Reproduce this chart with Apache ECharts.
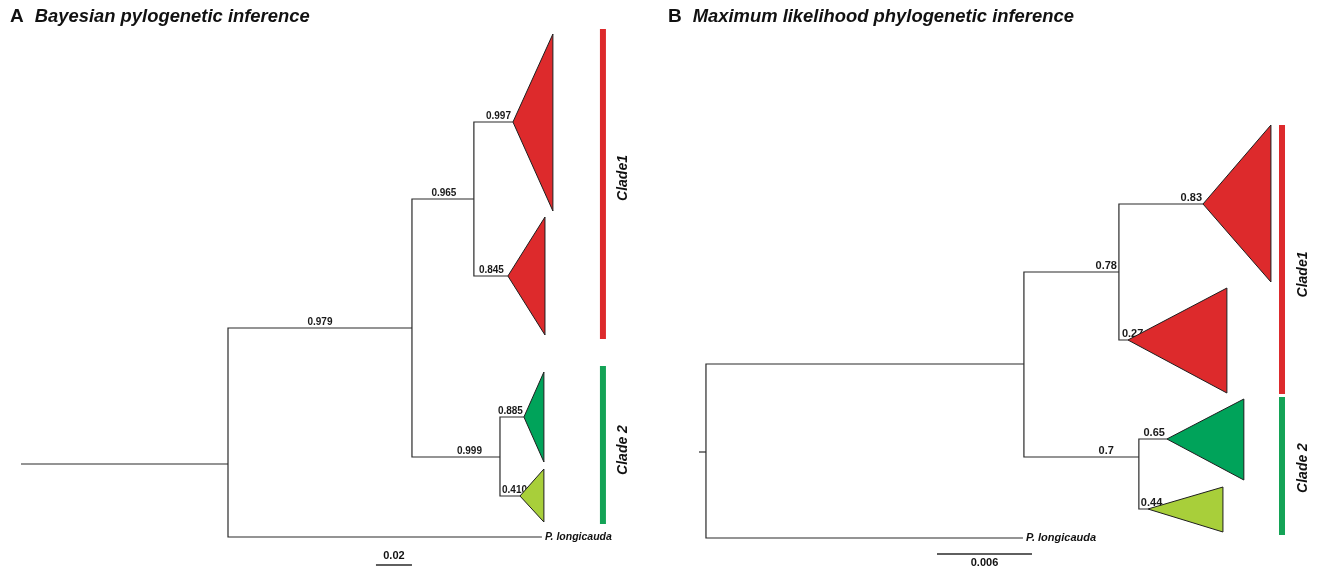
<!DOCTYPE html>
<html><head><meta charset="utf-8">
<script src="https://cdn.jsdelivr.net/npm/echarts@6/dist/echarts.min.js"></script>
<style>html,body{margin:0;padding:0;background:#fff}#c{width:1317px;height:569px}</style>
</head><body><div id="c"></div>
<script>
// ---------------- Panel A : Bayesian ----------------
const panelLetterA = 'A';
const titleA = 'Bayesian pylogenetic inference';
const nodeA   = ['root','R','N1','P','N2','N3','C1a','C1b','C2a','C2b'];
const parentA = [null,'root','R','R','N1','N1','N2','N2','N3','N3'];
const branchA = [0,0.115,0.1022,0.1744,0.0344,0.0489,0.0217,0.0189,0.0133,0.0111];
const rowA    = [464,464,328,537,199,457,122,276,417,496];
const supportA= ['','','0.979','','0.965','0.999','0.997','0.845','0.885','0.410'];
const cladeNodeA   = ['C1a','C1b','C2a','C2b'];
const cladeDepthA  = [0.0222,0.0206,0.0111,0.0133];
const cladeTopA    = [34,217,372,469];
const cladeBottomA = [211,335,462,522];
const cladeKindA   = ['clade1','clade1','clade2a','clade2b'];
const groupA       = ['Clade1','Clade 2'];
const groupDistA   = [0.3233,0.3233];
const groupTopA    = [29,366];
const groupBottomA = [339,524];
const outgroupNodeA = 'P';
const outgroupA = 'P. longicauda';
const scaleLenA = 0.02, scaleStartA = 0.1972, scaleRowA = 565, scaleLabelA = '0.02';

// ---------------- Panel B : Maximum likelihood ----------------
const panelLetterB = 'B';
const titleB = 'Maximum likelihood phylogenetic inference';
const nodeB   = ['root','R','N1','P','N2','N3','C1a','C1b','C2a','C2b'];
const parentB = [null,'root','R','R','N1','N1','N2','N2','N3','N3'];
const branchB = [0,0.00044,0.02008,0.02002,0.0060,0.00726,0.00531,0.00057,0.00177,0.00057];
const rowB    = [452,452,364,538,272,457,204,340,439,509];
const supportB= ['','','','','0.78','0.7','0.83','0.27','0.65','0.44'];
const cladeNodeB   = ['C1a','C1b','C2a','C2b'];
const cladeDepthB  = [0.00429,0.00625,0.00486,0.00474];
const cladeTopB    = [125,288,399,487];
const cladeBottomB = [282,393,480,532];
const cladeKindB   = ['clade1','clade1','clade2a','clade2b'];
const groupB       = ['Clade1','Clade 2'];
const groupDistB   = [0.03682,0.03682];
const groupTopB    = [125,397];
const groupBottomB = [394,535];
const outgroupNodeB = 'P';
const outgroupB = 'P. longicauda';
const scaleLenB = 0.006, scaleStartB = 0.01503, scaleRowB = 554, scaleLabelB = '0.006';

// ---------------- styles ----------------
const FONT = '"Liberation Sans", Arial, Helvetica, sans-serif';
const colors = {clade1:'#dd2a2c', clade2a:'#00a35a', clade2b:'#a8cf3a', bar1:'#dd2a2c', bar2:'#14a356'};
const lineColor = '#2a2a2a';
const styleA = {
  grid:{left:21, top:0, width:639, height:569}, xMax:0.355, labelSize:10, ogSize:10.5,
  place:{N1:['mid',0], N2:['mid',1], N3:['end',-18], C1a:['end',-2], C1b:['end',-4], C2a:['end',-1], C2b:['start',2]},
  groupDy:[-6,5], groupDx:20, scaleLabelPos:'above'
};
const styleB = {
  grid:{left:699, top:0, width:618, height:569}, xMax:0.03903, labelSize:11, ogSize:11,
  place:{N2:['end',-2], N3:['end',-25], C1a:['end',-1], C1b:['start',3], C2a:['end',-2], C2b:['start',2]},
  groupDy:[15,2], groupDx:21, scaleLabelPos:'below'
};

function build(node,parent,branch,row,support,cN,cD,cT,cB,cK,gN,gX,gT,gB,ogNode,ogName,sLen,sStart,sRow,sLabel){
  const x = new Array(node.length).fill(0);
  for (let i=0;i<node.length;i++){
    const p = parent[i]===null ? -1 : node.indexOf(parent[i]);
    x[i] = p<0 ? 0 : x[p] + branch[i];
  }
  return {node,parent,branch,row,support,x,cN,cD,cT,cB,cK,gN,gX,gT,gB,ogNode,ogName,sLen,sStart,sRow,sLabel};
}
const PA = build(nodeA,parentA,branchA,rowA,supportA,cladeNodeA,cladeDepthA,cladeTopA,cladeBottomA,cladeKindA,groupA,groupDistA,groupTopA,groupBottomA,outgroupNodeA,outgroupA,scaleLenA,scaleStartA,scaleRowA,scaleLabelA);
const PB = build(nodeB,parentB,branchB,rowB,supportB,cladeNodeB,cladeDepthB,cladeTopB,cladeBottomB,cladeKindB,groupB,groupDistB,groupTopB,groupBottomB,outgroupNodeB,outgroupB,scaleLenB,scaleStartB,scaleRowB,scaleLabelB);

function seriesFor(P, S, gi){
  const out = [];
  const idx = P.node.map((n,i)=>i).filter(i=>P.parent[i]!==null);
  out.push({type:'custom', xAxisIndex:gi, yAxisIndex:gi, silent:true, animation:false,
    data: idx.map(i=>[P.x[i], P.row[i], i]),
    renderItem(params, api){
      const i = api.value(2), pi = P.node.indexOf(P.parent[i]);
      const a = api.coord([P.x[pi], P.row[pi]]), b = api.coord([P.x[pi], P.row[i]]), c = api.coord([P.x[i], P.row[i]]);
      const ch = [{type:'polyline', shape:{points:[a,b,c]}, style:{stroke:lineColor, lineWidth:1.2, fill:null}}];
      const s = P.support[i];
      if (s){
        const pl = S.place[P.node[i]] || ['end',0];
        let tx, align;
        if (pl[0]==='mid'){ tx=(b[0]+c[0])/2+pl[1]; align='center'; }
        else if (pl[0]==='end'){ tx=c[0]+pl[1]; align='right'; }
        else { tx=b[0]+pl[1]; align='left'; }
        ch.push({type:'text', x:tx, y:c[1]-1, style:{text:s, align:align, verticalAlign:'bottom',
          fontFamily:FONT, fontWeight:'bold', fontSize:S.labelSize, fill:'#1a1a1a'}});
      }
      return {type:'group', children:ch};
    }});
  out.push({type:'custom', xAxisIndex:gi, yAxisIndex:gi, silent:true, animation:false,
    data: P.cN.map((n,k)=>{ const i=P.node.indexOf(n); return [P.x[i], P.row[i], k]; }),
    renderItem(params, api){
      const k = api.value(2), i = P.node.indexOf(P.cN[k]);
      const ap = api.coord([P.x[i], P.row[i]]);
      const t = api.coord([P.x[i]+P.cD[k], P.cT[k]]);
      const bt = api.coord([P.x[i]+P.cD[k], P.cB[k]]);
      return {type:'polygon', shape:{points:[ap,t,bt]}, style:{fill:colors[P.cK[k]], stroke:'#1e1e1e', lineWidth:1}};
    }});
  out.push({type:'custom', xAxisIndex:gi, yAxisIndex:gi, silent:true, animation:false,
    data: P.gN.map((n,k)=>[P.gX[k], P.gT[k], k]),
    renderItem(params, api){
      const k = api.value(2);
      const t = api.coord([P.gX[k], P.gT[k]]), bt = api.coord([P.gX[k], P.gB[k]]);
      return {type:'group', children:[
        {type:'rect', shape:{x:t[0]-3, y:t[1], width:6, height:bt[1]-t[1]}, style:{fill: k===0?colors.bar1:colors.bar2}},
        {type:'text', x:t[0]+S.groupDx, y:(t[1]+bt[1])/2+S.groupDy[k], rotation:Math.PI/2,
          style:{text:P.gN[k], align:'center', verticalAlign:'middle', fontFamily:FONT, fontWeight:'bold', fontStyle:'italic', fontSize:14, fill:'#111'}}
      ]};
    }});
  out.push({type:'custom', xAxisIndex:gi, yAxisIndex:gi, silent:true, animation:false,
    data: [[P.sStart, P.sRow, 0]],
    renderItem(params, api){
      const i = P.node.indexOf(P.ogNode);
      const tip = api.coord([P.x[i], P.row[i]]);
      const s0 = api.coord([P.sStart, P.sRow]), s1 = api.coord([P.sStart+P.sLen, P.sRow]);
      const above = S.scaleLabelPos==='above';
      return {type:'group', children:[
        {type:'text', x:tip[0]+3, y:tip[1], style:{text:P.ogName, align:'left', verticalAlign:'middle', fontFamily:FONT, fontWeight:'bold', fontStyle:'italic', fontSize:S.ogSize, fill:'#111'}},
        {type:'line', shape:{x1:s0[0], y1:s0[1], x2:s1[0], y2:s1[1]}, style:{stroke:lineColor, lineWidth:1.3}},
        {type:'text', x:(s0[0]+s1[0])/2, y: above ? s0[1]-4 : s0[1]+3, style:{text:P.sLabel, align:'center', verticalAlign: above?'bottom':'top', fontFamily:FONT, fontWeight:'bold', fontSize:11, fill:'#111'}}
      ]};
    }});
  return out;
}

function axisPair(S, gi){
  return {
    x:{type:'value', gridIndex:gi, min:0, max:S.xMax, show:false},
    y:{type:'value', gridIndex:gi, min:0, max:569, inverse:true, show:false}
  };
}
const axA = axisPair(styleA,0), axB = axisPair(styleB,1);
const titleRich = {
  l:{fontFamily:FONT, fontWeight:'bold', fontSize:19, color:'#111', padding:[0,11,0,0]},
  t:{fontFamily:FONT, fontWeight:'bold', fontStyle:'italic', fontSize:18.4, color:'#111'}
};
const chart = echarts.init(document.getElementById('c'), null, {renderer:'canvas'});
chart.setOption({
  backgroundColor:'#fff',
  animation:false,
  title:[
    {left:10, top:7, padding:0, text:'{l|'+panelLetterA+'}{t|'+titleA+'}', textStyle:{rich:titleRich}},
    {left:668, top:7, padding:0, text:'{l|'+panelLetterB+'}{t|'+titleB+'}', textStyle:{rich:titleRich}}
  ],
  grid:[styleA.grid, styleB.grid],
  xAxis:[axA.x, axB.x],
  yAxis:[axA.y, axB.y],
  series:[...seriesFor(PA, styleA, 0), ...seriesFor(PB, styleB, 1)]
});
</script></body></html>
